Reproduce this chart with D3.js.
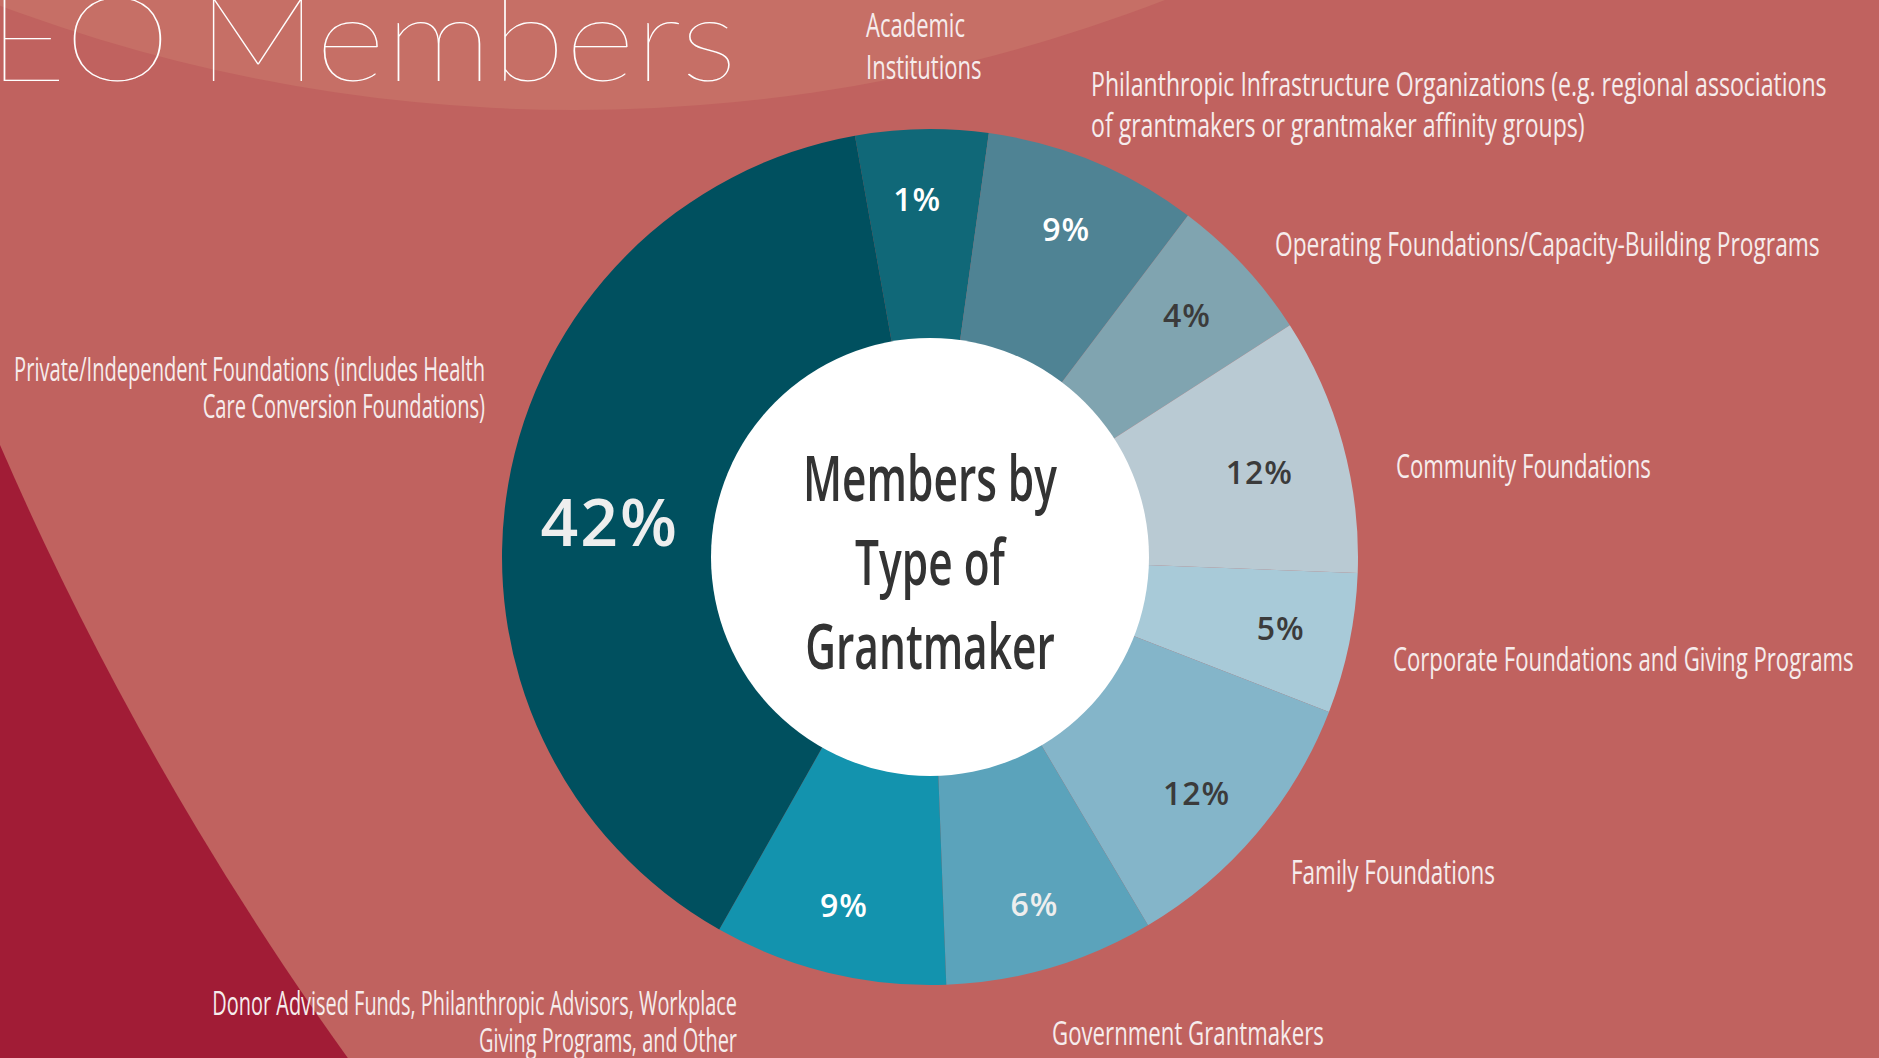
<!DOCTYPE html>
<html>
<head>
<meta charset="utf-8">
<script src="https://cdn.jsdelivr.net/npm/d3@7"></script>
<style>
  body { margin: 0; overflow: hidden; background: #a11c36; }
  svg { display: block; }
</style>
</head>
<body>
<svg id="drawing_region"></svg>
<script>
// slices, clockwise from the top
const categories = [
    'Academic\nInstitutions',
    'Philanthropic Infrastructure Organizations (e.g. regional associations\nof grantmakers or grantmaker affinity groups)',
    'Operating Foundations/Capacity-Building Programs',
    'Community Foundations',
    'Corporate Foundations and Giving Programs',
    'Family Foundations',
    'Government Grantmakers',
    'Donor Advised Funds, Philanthropic Advisors, Workplace\nGiving Programs, and Other',
    'Private/Independent Foundations (includes Health\nCare Conversion Foundations)'
];
// printed percentages
const percents = [1, 9, 4, 12, 5, 12, 6, 9, 42];
// slice sizes as drawn in the picture (share of the circle, %)
const arc_shares = [5.0, 8.1, 5.6, 9.7, 5.3, 10.6, 7.9, 8.8, 39.0];
const center_title = ['Members by', 'Type of', 'Grantmaker'];
const page_title = 'GEO Members';

const colors = ['#106878', '#4f8394', '#80a4b0', '#b9cad3', '#a8cad8', '#84b5c9', '#5ba3bb', '#1393ae', '#00505f'];
const pct_colors = ['#ffffff', '#ffffff', '#3b3b3b', '#3b3b3b', '#3b3b3b', '#3b3b3b', '#eeeeee', '#ffffff', '#eeeeee'];

// x, first baseline, anchor, line height, width of the first line
const label_layout = [
    {x: 866, y: 37, anchor: 'start', lh: 42, w: 99},
    {x: 1091, y: 96, anchor: 'start', lh: 41, w: 736},
    {x: 1275, y: 256, anchor: 'start', lh: 38, w: 545},
    {x: 1396, y: 478, anchor: 'start', lh: 38, w: 255},
    {x: 1393, y: 671, anchor: 'start', lh: 38, w: 461},
    {x: 1291, y: 884, anchor: 'start', lh: 38, w: 204},
    {x: 1052, y: 1045, anchor: 'start', lh: 38, w: 272},
    {x: 737, y: 1015, anchor: 'end', lh: 37, w: 525},
    {x: 485, y: 381, anchor: 'end', lh: 37, w: 471}
];
const pct_offsets = [[-6, -3], [0, 0], [-4, 0], [-14, 9], [2, -2], [-5, 5], [4, 5], [-2, 2], [0, 4]];

class DonutChart {

    constructor( config ) {
        this.config = config;
        this.data = categories.map( (c, i) => ({ name: c, share: arc_shares[i], pct: percents[i] }) );
        this.init();
    }

    init() {
        let self = this;

        self.svg = d3.select( self.config.parent )
            .attr('width', self.config.width)
            .attr('height', self.config.height);

        // background shapes
        self.svg.append('rect')
            .attr('width', self.config.width)
            .attr('height', self.config.height)
            .attr('fill', '#a11c36');
        self.svg.append('circle')
            .attr('cx', 3024).attr('cy', -866).attr('r', 3296)
            .attr('fill', '#c0625f');
        self.svg.append('circle')
            .attr('cx', 575).attr('cy', -1527).attr('r', 1637)
            .attr('fill', '#c66f66');

        self.chart = self.svg.append('g')
            .attr('transform', `translate(${self.config.cx}, ${self.config.cy})`);

        self.pie = d3.pie()
            .sort(null)
            .value( d => d.share )
            .startAngle( self.config.start )
            .endAngle( self.config.start + 2 * Math.PI );

        self.arc = d3.arc()
            .innerRadius( self.config.inner - 2 )
            .outerRadius( self.config.outer );

        self.label_arc = d3.arc()
            .innerRadius( 356 ).outerRadius( 356 );
        self.big_label_arc = d3.arc()
            .innerRadius( 325 ).outerRadius( 325 );
    }

    update() {
        let self = this;
        self.arcs = self.pie( self.data );
        self.render();
    }

    measure( text, font ) {
        let self = this;
        const t = self.svg.append('text')
            .attr('font-family', font.family)
            .attr('font-size', font.size)
            .attr('font-weight', font.weight)
            .text( text );
        const len = t.node().getComputedTextLength();
        t.remove();
        return len;
    }

    render() {
        let self = this;
        const label_font = {family: "'Open Sans', 'Noto Sans', sans-serif", size: 32, weight: 400};

        // title (its left part runs off the page)
        self.svg.append('text')
            .attr('transform', 'translate(737, 81) scale(1.145, 1)')
            .attr('text-anchor', 'end')
            .attr('font-family', 'Lato, sans-serif')
            .attr('font-weight', 200)
            .attr('font-size', 118)
            .attr('word-spacing', -10)
            .attr('fill', '#ffffff')
            .text( page_title );

        self.chart.selectAll('path')
            .data( self.arcs )
            .join('path')
            .attr('d', self.arc)
            .attr('fill', (d, i) => colors[i]);

        self.chart.append('circle')
            .attr('r', self.config.inner)
            .attr('fill', '#ffffff');

        // percentages
        self.chart.selectAll('text.pct')
            .data( self.arcs )
            .join('text')
            .attr('class', 'pct')
            .attr('transform', (d, i) => {
                const big = d.data.pct > 30;
                const c = (big ? self.big_label_arc : self.label_arc).centroid(d);
                return `translate(${c[0] + pct_offsets[i][0]}, ${c[1] + pct_offsets[i][1] + (big ? 14 : 0)})`;
            })
            .attr('text-anchor', 'middle')
            .attr('dominant-baseline', 'central')
            .attr('font-family', "'Open Sans', sans-serif")
            .attr('font-weight', 600)
            .attr('font-size', d => d.data.pct > 30 ? 66 : 32)
            .attr('letter-spacing', d => d.data.pct > 30 ? 2 : 1)
            .attr('fill', (d, i) => pct_colors[i])
            .text( d => d.data.pct + '%' );

        // category labels, condensed to the width they take in the picture
        const labels = self.svg.selectAll('text.cat')
            .data( self.data )
            .join('text')
            .attr('class', 'cat')
            .attr('transform', (d, i) => {
                const L = label_layout[i];
                const k = L.w / self.measure( d.name.split('\n')[0], label_font );
                return `translate(${L.x}, ${L.y}) scale(${k}, 1)`;
            })
            .attr('text-anchor', (d, i) => label_layout[i].anchor)
            .attr('font-family', label_font.family)
            .attr('font-size', label_font.size)
            .attr('fill', '#f6ecec');
        labels.each( function(d, i) {
            d3.select(this).selectAll('tspan')
                .data( d.name.split('\n') )
                .join('tspan')
                .attr('x', 0)
                .attr('y', (s, j) => j * label_layout[i].lh)
                .text( s => s );
        });

        // center title
        const center_font = {family: "'Open Sans', 'Noto Sans', sans-serif", size: 64, weight: 600};
        const kc = 254 / self.measure( center_title[0], center_font );
        self.chart.selectAll('text.center')
            .data( center_title )
            .join('text')
            .attr('class', 'center')
            .attr('transform', (d, i) => `translate(0, ${-56 + i * 84}) scale(${kc}, 1)`)
            .attr('text-anchor', 'middle')
            .attr('font-family', center_font.family)
            .attr('font-weight', center_font.weight)
            .attr('font-size', center_font.size)
            .attr('fill', '#333333')
            .text( d => d );
    }
}

let config = {
    parent: '#drawing_region',
    width: 1879,
    height: 1058,
    cx: 930,
    cy: 557,
    outer: 428,
    inner: 219,
    start: -10.1 * Math.PI / 180
};

const donut = new DonutChart( config );
donut.update();
</script>
</body>
</html>
